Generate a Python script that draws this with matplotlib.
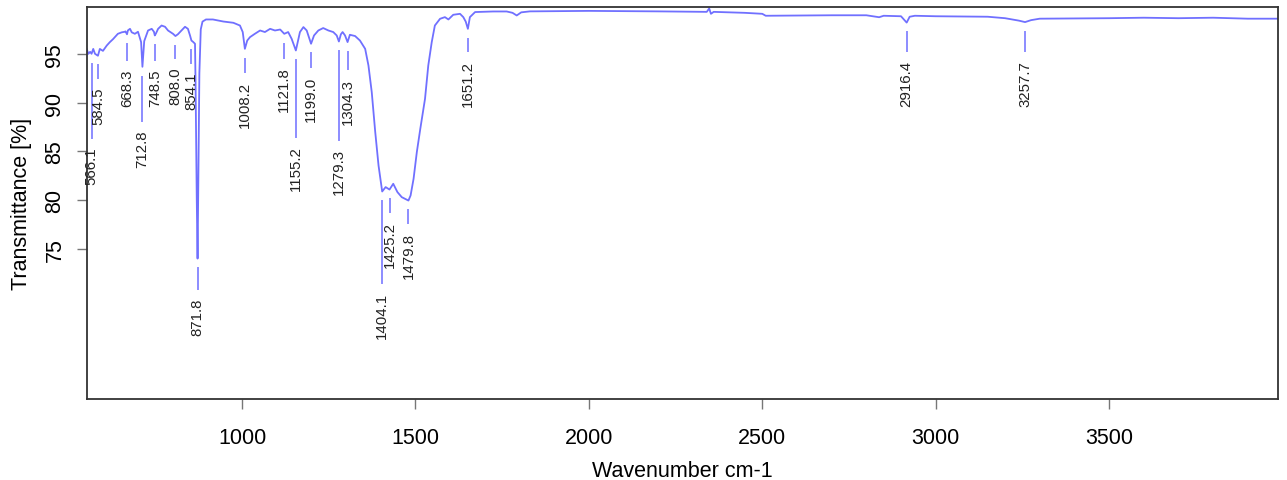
import numpy as np
import matplotlib.pyplot as plt

plt.rcParams['font.family'] = ['Liberation Sans', 'DejaVu Sans']

# IR spectrum: wavenumber (cm-1) and transmittance (%)
wavenumber = [552, 557, 562, 566.1, 571, 576, 584.5, 590, 599, 610, 619, 628, 642, 653,
              662, 664, 668.3, 671, 677, 682, 691, 700, 709, 712.8, 718, 729, 739.6, 746,
              748.5, 752, 758, 768, 778, 786.6, 801, 808.0, 815, 821, 835.6, 844, 850,
              854.1, 858.6, 864.4, 866, 869.5, 871.8, 874, 877, 881, 886, 896, 916, 946,
              975, 994, 1002, 1008.2, 1015, 1023, 1037, 1052, 1066, 1081, 1095, 1110,
              1121.8, 1133, 1143, 1155.2, 1167, 1177, 1186.5, 1199.0, 1207.6, 1220, 1234,
              1249, 1263, 1273, 1279.3, 1285, 1290, 1297, 1304.3, 1311, 1326, 1340, 1355,
              1364.5, 1374, 1384, 1393.6, 1404.1, 1414, 1425.2, 1436, 1448, 1460.5,
              1479.8, 1486, 1494.6, 1504, 1514, 1527.6, 1537, 1547, 1556, 1571, 1585,
              1595, 1609, 1628.5, 1638, 1645, 1651.2, 1657, 1672, 1724, 1763, 1780, 1792,
              1805, 1830, 2000, 2200, 2340, 2347, 2352, 2360, 2450, 2500, 2510, 2700,
              2800, 2837, 2850, 2900, 2916.4, 2925, 2940, 3000, 3150, 3200, 3240, 3257.7,
              3275, 3300, 3500, 3600, 3700, 3800, 3900, 3987]
transmittance = [95.5, 95.0, 95.2, 95.0, 95.5, 95.0, 94.8, 95.5, 95.3, 95.85, 96.2, 96.5,
                 97.05, 97.2, 97.26, 97.3, 97.0, 97.4, 97.56, 97.2, 97.05, 97.26, 96.2,
                 93.67, 96.3, 97.39, 97.56, 97.26, 96.88, 97.1, 97.56, 97.9, 97.77, 97.39,
                 97.05, 96.82, 97.0, 97.22, 97.77, 97.56, 96.88, 96.36, 96.23, 96.03, 92.0,
                 80.0, 74.0, 82.0, 93.0, 97.5, 98.3, 98.52, 98.52, 98.31, 98.18, 97.9,
                 97.23, 95.51, 96.36, 96.71, 97.05, 97.39, 97.23, 97.56, 97.39, 97.49,
                 97.05, 97.23, 96.54, 95.34, 97.23, 97.74, 97.39, 96.03, 96.88, 97.39,
                 97.64, 97.39, 97.23, 96.88, 96.26, 97.0, 97.23, 96.88, 96.2, 96.95, 96.82,
                 96.36, 95.51, 93.8, 91.07, 87.0, 83.54, 80.88, 81.33, 81.08, 81.67, 80.82,
                 80.3, 79.95, 80.47, 82.18, 84.92, 87.31, 90.38, 93.8, 96.2, 97.9, 98.59,
                 98.76, 98.52, 99.0, 99.1, 98.76, 98.3, 97.56, 98.76, 99.28, 99.34, 99.34,
                 99.2, 98.93, 99.25, 99.35, 99.4, 99.35, 99.3, 99.65, 99.1, 99.3, 99.2,
                 99.1, 98.9, 98.95, 98.95, 98.75, 98.9, 98.85, 98.2, 98.8, 98.9, 98.85,
                 98.8, 98.65, 98.4, 98.25, 98.45, 98.6, 98.65, 98.7, 98.65, 98.7, 98.6,
                 98.6]

peak_wn = [566.1, 584.5, 668.3, 712.8, 748.5, 808.0, 854.1, 871.8, 1008.2, 1121.8,
           1155.2, 1199.0, 1279.3, 1304.3, 1404.1, 1425.2, 1479.8, 1651.2, 2916.4, 3257.7]
peak_labels = ['%.1f' % w for w in peak_wn]

# where each label text begins (labels pushed down where they crowd)
label_top = [85.5, 91.6, 93.5, 87.2, 93.5, 93.7, 93.2, 70.0, 92.2, 93.7,
             85.6, 92.7, 85.3, 92.5, 70.6, 77.9, 76.7, 94.4, 94.4, 94.4]

line_col = '#7070ff'

fig = plt.figure(figsize=(12.87, 4.81), dpi=100)
ax = fig.add_axes([0.0676, 0.1684, 0.9254, 0.815])

ax.plot(wavenumber, transmittance, color=line_col, lw=1.3)

peak_t = np.interp(peak_wn, wavenumber, transmittance)
for w, t, top, lab in zip(peak_wn, peak_t, label_top, peak_labels):
    ax.plot([w, w], [t - 1.0, top + 0.9], color='#8c8cff', lw=1.4)
    ax.text(w, top, lab, rotation=90, ha='center', va='top', fontsize=10.8,
            color='#222222')

ax.set_xlim(553, 3987)
ax.set_ylim(59.6, 99.8)
ax.set_xticks([1000, 1500, 2000, 2500, 3000, 3500])
ax.set_yticks([75, 80, 85, 90, 95])
ax.tick_params(axis='both', labelsize=15.5, length=7.5, width=1, color='#777777')
ax.tick_params(axis='x', pad=13)
ax.tick_params(axis='y', pad=8)
for lab in ax.get_yticklabels():
    lab.set_rotation(90)
    lab.set_va('center')
for s in ax.spines.values():
    s.set_color('#333333')
    s.set_linewidth(1.3)

ax.set_xlabel('Wavenumber cm-1', fontsize=15.5, labelpad=8)
ax.set_ylabel('Transmittance [%]', fontsize=15.5, labelpad=9)

fig.savefig('out.png', dpi=100)
